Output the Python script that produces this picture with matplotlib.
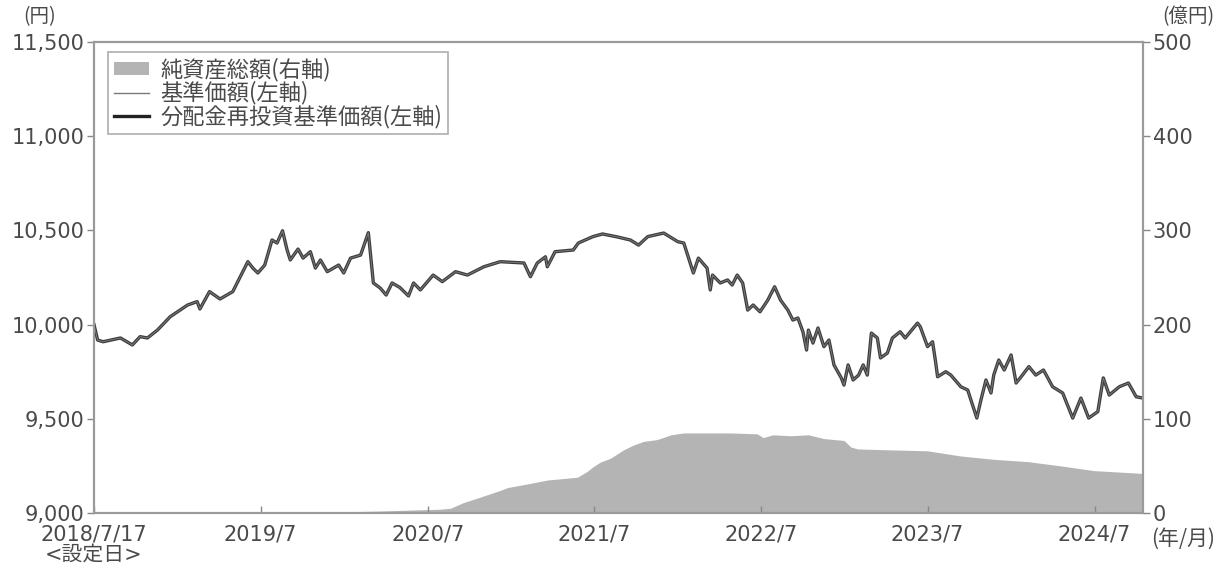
import matplotlib
matplotlib.use("Agg")
import matplotlib.pyplot as plt
import matplotlib.dates as mdates
from matplotlib.patches import Patch
from matplotlib.lines import Line2D
from matplotlib.ticker import FuncFormatter, FixedLocator
import pandas as pd

plt.rcParams['font.family'] = ['DejaVu Sans', 'Noto Sans CJK JP']

# 基準価額 / 分配金再投資基準価額 (円)
nav_dates = [
    "2018-07-17", "2018-07-25", "2018-08-06", "2018-09-13", "2018-10-09", "2018-10-26",
    "2018-11-11", "2018-12-03", "2018-12-31", "2019-02-07", "2019-02-28", "2019-03-06",
    "2019-03-27", "2019-04-19", "2019-05-17", "2019-06-08", "2019-06-19", "2019-06-30",
    "2019-07-11", "2019-07-26", "2019-08-11", "2019-08-22", "2019-09-03", "2019-09-13",
    "2019-09-20", "2019-10-07", "2019-10-18", "2019-11-03", "2019-11-14", "2019-11-25",
    "2019-12-10", "2020-01-04", "2020-01-15", "2020-01-30", "2020-02-21", "2020-03-09",
    "2020-03-20", "2020-04-04", "2020-04-17", "2020-04-30", "2020-05-17", "2020-06-05",
    "2020-06-16", "2020-07-01", "2020-07-29", "2020-08-18", "2020-09-16", "2020-10-12",
    "2020-11-17", "2020-12-23", "2021-02-13", "2021-02-27", "2021-03-14", "2021-04-01",
    "2021-04-05", "2021-04-22", "2021-06-01", "2021-06-12", "2021-07-14", "2021-08-04",
    "2021-09-06", "2021-10-04", "2021-10-22", "2021-11-11", "2021-12-16", "2022-01-16",
    "2022-01-29", "2022-02-19", "2022-03-02", "2022-03-21", "2022-03-28", "2022-04-02",
    "2022-04-19", "2022-05-05", "2022-05-15", "2022-05-26", "2022-06-07", "2022-06-18",
    "2022-06-30", "2022-07-15", "2022-08-01", "2022-08-16", "2022-08-29", "2022-09-14",
    "2022-09-25", "2022-10-06", "2022-10-17", "2022-10-25", "2022-10-29", "2022-11-08",
    "2022-11-19", "2022-12-02", "2022-12-13", "2022-12-24", "2023-01-09", "2023-01-15",
    "2023-01-24", "2023-02-04", "2023-02-16", "2023-02-26", "2023-03-07", "2023-03-16",
    "2023-03-29", "2023-04-05", "2023-04-20", "2023-05-01", "2023-05-18", "2023-05-29",
    "2023-06-25", "2023-07-01", "2023-07-17", "2023-07-28", "2023-08-04", "2023-08-08",
    "2023-08-26", "2023-09-06", "2023-09-28", "2023-10-13", "2023-10-20", "2023-11-02",
    "2023-11-11", "2023-11-22", "2023-12-03", "2023-12-09", "2023-12-20", "2024-01-01",
    "2024-01-16", "2024-01-27", "2024-02-07", "2024-02-24", "2024-03-10", "2024-03-27",
    "2024-04-16", "2024-05-08", "2024-05-30", "2024-06-17", "2024-07-04", "2024-07-24",
    "2024-08-05", "2024-08-18", "2024-09-09", "2024-09-29", "2024-10-16", "2024-10-31",
]
nav_values = [
    10000, 9918, 9909, 9929, 9892, 9936,
    9929, 9971, 10042, 10104, 10122, 10083,
    10175, 10136, 10175, 10281, 10334, 10300,
    10274, 10316, 10449, 10433, 10498, 10396,
    10343, 10401, 10353, 10387, 10300, 10343,
    10281, 10316, 10274, 10353, 10369, 10488,
    10221, 10194, 10157, 10221, 10197, 10152,
    10221, 10184, 10263, 10228, 10281, 10263,
    10307, 10334, 10327, 10254, 10327, 10360,
    10307, 10387, 10396, 10433, 10467, 10481,
    10465, 10449, 10422, 10467, 10486, 10440,
    10433, 10274, 10353, 10300, 10184, 10263,
    10221, 10237, 10210, 10263, 10221, 10077,
    10104, 10068, 10130, 10201, 10130, 10077,
    10024, 10035, 9962, 9865, 9971, 9902,
    9982, 9883, 9918, 9786, 9717, 9679,
    9786, 9706, 9732, 9786, 9732, 9955,
    9929, 9823, 9849, 9929, 9962, 9929,
    10008, 9989, 9883, 9909, 9796, 9723,
    9750, 9732, 9670, 9653, 9600, 9504,
    9600, 9706, 9637, 9732, 9812, 9759,
    9839, 9690, 9723, 9777, 9732, 9759,
    9670, 9637, 9504, 9610, 9504, 9538,
    9717, 9626, 9670, 9690, 9617, 9610,
]
nav_reinvest_values = list(nav_values)  # 分配金なしのため同一

# 純資産総額 (億円)
aum_dates = [
    "2018-07-17", "2019-10-11", "2020-03-27", "2020-08-13", "2020-09-05", "2020-10-03",
    "2020-11-10", "2020-12-23", "2021-01-08", "2021-03-05", "2021-04-05", "2021-06-10",
    "2021-07-01", "2021-07-14", "2021-07-30", "2021-08-21", "2021-09-19", "2021-10-10",
    "2021-11-02", "2021-12-02", "2022-01-01", "2022-01-29", "2022-03-21", "2022-05-10",
    "2022-07-09", "2022-07-22", "2022-08-12", "2022-09-20", "2022-10-29", "2022-12-02",
    "2023-01-15", "2023-01-30", "2023-02-14", "2023-04-26", "2023-07-17", "2023-09-28",
    "2023-12-09", "2024-02-22", "2024-05-04", "2024-07-15", "2024-10-31",
]
aum_values = [
    0, 0.5, 2, 4, 5, 11,
    17, 24, 27, 32, 35, 38,
    44, 49, 54, 58, 67, 72,
    76, 78, 83, 85, 85, 85,
    84, 80, 83, 82, 83, 79,
    77, 70, 68, 67, 66, 60.5,
    57, 54.5, 50, 45, 42,
]

x_tick_dates = ["2018-07-17", "2019-07-17", "2020-07-17", "2021-07-17",
                "2022-07-17", "2023-07-17", "2024-07-17"]
x_tick_labels = ["2018/7/17\n<設定日>", "2019/7", "2020/7", "2021/7",
                 "2022/7", "2023/7", "2024/7"]
left_ticks = [9000, 9500, 10000, 10500, 11000, 11500]
right_ticks = [0, 100, 200, 300, 400, 500]

legend_labels = ["純資産総額(右軸)", "基準価額(左軸)", "分配金再投資基準価額(左軸)"]

TXT = "#4a4a4a"
SPINE = "#9a9a9a"
JP = ['Noto Sans CJK JP', 'DejaVu Sans']

nav_d = pd.to_datetime(nav_dates)
aum_d = pd.to_datetime(aum_dates)

fig = plt.figure(figsize=(12.3, 5.71), dpi=100)
ax = fig.add_axes([94/1230, 1-513/571, (1143-94)/1230, (513-42)/571])
ax2 = ax.twinx()

ax2.fill_between(aum_d, aum_values, 0, color="#b4b4b4", linewidth=0)
ax2.set_ylim(0, 500)

ax.set_zorder(ax2.get_zorder() + 1)
ax.patch.set_visible(False)
ax.plot(nav_d, nav_reinvest_values, color="#3c3c3c", linewidth=2.4, solid_joinstyle="round")
ax.plot(nav_d, nav_values, color="#7a7a7a", linewidth=0.7)

ax.set_ylim(9000, 11500)
ax.set_xlim(pd.Timestamp("2018-07-17"), pd.Timestamp("2024-10-31"))

ax.yaxis.set_major_locator(FixedLocator(left_ticks))
ax.yaxis.set_major_formatter(FuncFormatter(lambda v, p: f"{int(v):,}"))
ax2.yaxis.set_major_locator(FixedLocator(right_ticks))
ax2.yaxis.set_major_formatter(FuncFormatter(lambda v, p: f"{int(v)}"))

xt = mdates.date2num(pd.to_datetime(x_tick_dates))
ax.set_xticks(xt)
ax.set_xticklabels(x_tick_labels, linespacing=1.0)

for a in (ax, ax2):
    for s in a.spines.values():
        s.set_color(SPINE)
        s.set_linewidth(1.5)

ax.tick_params(axis="x", direction="in", length=5, width=1, color="#888888",
               labelsize=15, labelcolor=TXT, pad=8)
ax.tick_params(axis="y", direction="out", length=5, width=1, color="#888888",
               labelsize=15, labelcolor=TXT, pad=2)
ax2.tick_params(axis="y", direction="out", length=5, width=1, color="#888888",
                labelsize=15, labelcolor=TXT, pad=2)
for lbl in ax.get_xticklabels():
    lbl.set_horizontalalignment("center")

fig.text(40/1230, 1-17/571, "(円)", fontsize=14, color=TXT, ha="center", va="center", family=JP)
fig.text(1188/1230, 1-17/571, "(億円)", fontsize=14, color=TXT, ha="center", va="center", family=JP)
fig.text(1183/1230, 1-539/571, "(年/月)", fontsize=15, color=TXT, ha="center", va="center", family=JP)

handles = [
    Patch(facecolor="#b4b4b4", edgecolor="none"),
    Line2D([0], [0], color="#7a7a7a", linewidth=1.0),
    Line2D([0], [0], color="#222222", linewidth=2.4),
]
leg = ax.legend(handles, legend_labels, loc="upper left",
                bbox_to_anchor=((108-94)/1049, (513-52)/471), borderaxespad=0,
                prop={'family': JP, 'size': 16}, frameon=True, fancybox=False,
                handlelength=1.6, handleheight=0.55, handletextpad=0.5,
                labelspacing=0.0, borderpad=0.25, labelcolor=TXT)
leg.get_frame().set_edgecolor(SPINE)
leg.get_frame().set_linewidth(1.2)

fig.savefig("out.png", dpi=100)
